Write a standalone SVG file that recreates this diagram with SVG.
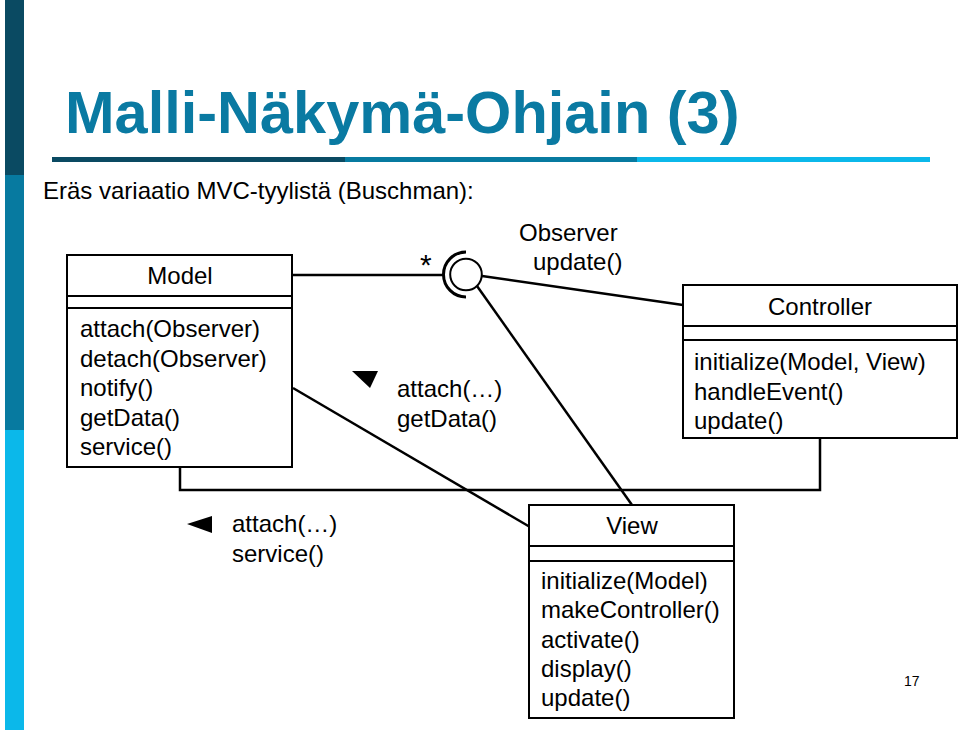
<svg xmlns="http://www.w3.org/2000/svg" width="960" height="732" viewBox="0 0 960 732">
<style>
text{font-family:"Liberation Sans",Arial,sans-serif;fill:#000;}
.t{font-size:24px;}
.box{fill:#fff;stroke:#000;stroke-width:2;}
.ln{fill:none;stroke:#000;stroke-width:2.5;}
.c{text-anchor:middle;}
</style>
<rect width="960" height="732" fill="#fff"/>
<g id="decor">
<rect x="5" y="0" width="19" height="175" fill="#0a4a62"/>
<rect x="5" y="175" width="19" height="255" fill="#077aa0"/>
<rect x="5" y="430" width="19" height="300" fill="#0bb8ea"/>
<rect x="52" y="157" width="293" height="5" fill="#0a4a62"/>
<rect x="345" y="157" width="292" height="5" fill="#077aa0"/>
<rect x="637" y="157" width="293" height="5" fill="#0bb8ea"/>
</g>
<text x="65" y="133" font-size="59.5" font-weight="bold" style="fill:#0a7aa2">Malli-Näkymä-Ohjain (3)</text>
<text x="43" y="199" font-size="24">Eräs variaatio MVC-tyylistä (Buschman):</text>
<g id="connectors">
<line class="ln" x1="293" y1="275" x2="444" y2="275"/>
<path d="M466 252 A22.5 22.5 0 0 0 466 297" fill="none" stroke="#000" stroke-width="3"/>
<circle cx="466" cy="274.5" r="15.8" fill="#fff" stroke="#000" stroke-width="2"/>
<line class="ln" x1="482" y1="276" x2="683" y2="305"/>
<line class="ln" x1="477" y1="286" x2="632" y2="505"/>
<line class="ln" x1="293" y1="388" x2="530" y2="527"/>
<polyline class="ln" points="180,467 180,490 820,490 820,439"/>
<polygon points="352,371 378,371 370,388" fill="#000"/>
<polygon points="187,524 212,516 212,533" fill="#000"/>
</g>
<text x="420" y="275" font-size="30">*</text>
<text x="519" y="241" class="t">Observer</text>
<text x="533" y="270" class="t">update()</text>
<text x="397" y="397" class="t">attach(…)</text>
<text x="397" y="427" class="t">getData()</text>
<text x="232" y="532" class="t">attach(…)</text>
<text x="232" y="562" class="t">service()</text>
<g id="model">
<rect class="box" x="67" y="255" width="225" height="212"/>
<line stroke="#000" stroke-width="2" x1="67" y1="296" x2="292" y2="296"/>
<line stroke="#000" stroke-width="2" x1="67" y1="308" x2="292" y2="308"/>
<text x="180" y="284" class="t c">Model</text>
<text x="80" y="337" class="t">attach(Observer)</text>
<text x="80" y="367" class="t">detach(Observer)</text>
<text x="80" y="396" class="t">notify()</text>
<text x="80" y="426" class="t">getData()</text>
<text x="80" y="455" class="t">service()</text>
</g>
<g id="controller">
<rect class="box" x="683" y="285" width="274" height="153"/>
<line stroke="#000" stroke-width="2" x1="683" y1="326" x2="957" y2="326"/>
<line stroke="#000" stroke-width="2" x1="683" y1="340" x2="957" y2="340"/>
<text x="820" y="315" class="t c">Controller</text>
<text x="694" y="370" class="t">initialize(Model, View)</text>
<text x="694" y="400" class="t">handleEvent()</text>
<text x="694" y="429" class="t">update()</text>
</g>
<g id="view">
<rect class="box" x="529" y="505" width="205" height="213"/>
<line stroke="#000" stroke-width="2" x1="529" y1="546" x2="734" y2="546"/>
<line stroke="#000" stroke-width="2" x1="529" y1="561" x2="734" y2="561"/>
<text x="632" y="534" class="t c">View</text>
<text x="541" y="589" class="t">initialize(Model)</text>
<text x="541" y="618" class="t">makeController()</text>
<text x="541" y="648" class="t">activate()</text>
<text x="541" y="677" class="t">display()</text>
<text x="541" y="706" class="t">update()</text>
</g>
<text x="904" y="686" font-size="14">17</text>
</svg>
